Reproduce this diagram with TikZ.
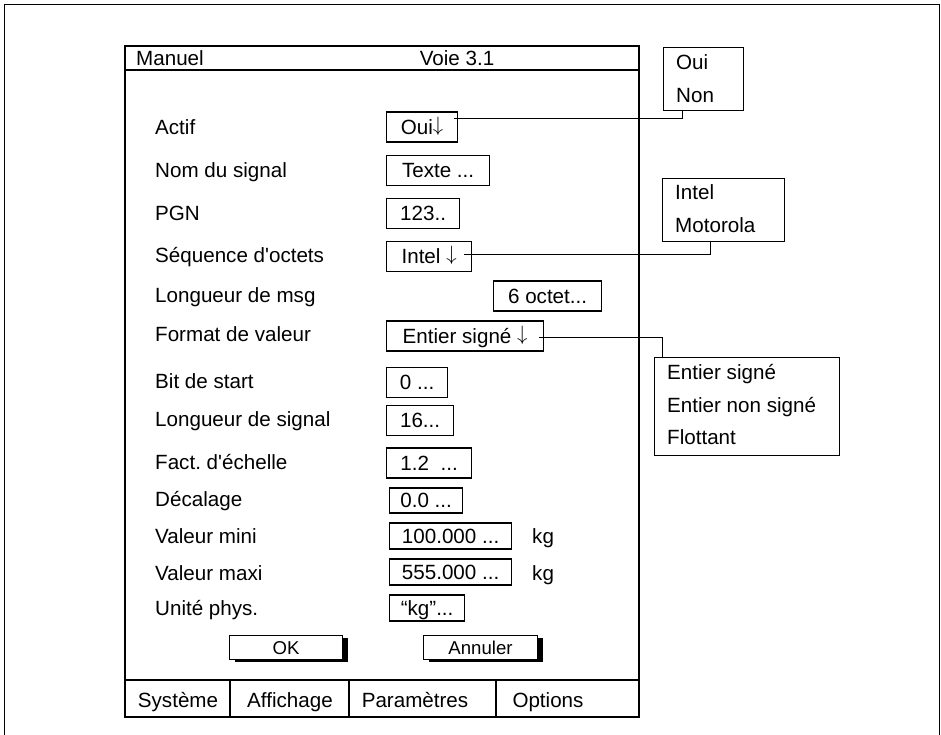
\documentclass[tikz,border=0pt]{standalone}
\usepackage{fontspec}
\setmainfont{Liberation Sans}
\usetikzlibrary{shadows}
\frenchspacing
\newcommand{\dnarrow}{\raisebox{3pt}{$\downarrow$}}

\begin{document}
\begin{tikzpicture}[x=1pt,y=-1pt,
    every node/.style={inner sep=0pt, font=\fontsize{20.6}{24}\selectfont},
    lbl/.style={anchor=west, text height=14.8pt, text depth=0pt},
    field/.style={draw, line width=1.2pt, anchor=west, minimum height=30pt,
      text height=14.8pt, text depth=0pt},
    popup/.style={draw, line width=1.2pt, anchor=north west},
    btn/.style={draw, fill=white, line width=1pt, anchor=north west,
      minimum width=113pt, minimum height=24pt, text height=13.4pt, text depth=0pt,
      font=\fontsize{18.6}{22}\selectfont,
      drop shadow={shadow xshift=5pt, shadow yshift=-2.5pt, fill=black, opacity=1}},
    wire/.style={line width=1pt}]
  \useasboundingbox (0,0) rectangle (941,735);
  \draw [line width=1.8pt] (4.5,745) -- (4.5,4.5) -- (939.5,4.5) -- (939.5,745);

  % fenetre
  \node [draw, line width=1.6pt, anchor=north west, minimum width=514pt, minimum height=671pt] (win) at (124,45) {};
  \draw [line width=1.6pt] (124,70) -- (638,70);
  \node [lbl] (mode) at (136,58) {Manuel};
  \node [lbl, anchor=center] (voie) at (457,58) {Voie 3.1};

  \node [lbl] (actif) at (155,127) {Actif};
  \node [field, minimum width=71pt] (actifbox) at (386,127) {Oui\dnarrow};
  \node [lbl] (nom) at (155,170) {Nom du signal};
  \node [field, minimum width=103pt] (nombox) at (386,170.5) {Texte ...};
  \node [lbl] (pgn) at (155,213) {PGN};
  \node [field, minimum width=73pt] (pgnbox) at (386,213.5) {123..};
  \node [lbl] (seq) at (155,255) {Séquence d\textquotesingle octets};
  \node [field, minimum width=85pt] (seqbox) at (386,256.5) {Intel \dnarrow};
  \node [lbl] (lmsg) at (155,295) {Longueur de msg};
  \node [field, minimum width=108pt] (lmsgbox) at (493,296) {6 octet...};
  \node [lbl] (fmt) at (155,334) {Format de valeur};
  \node [field, minimum width=157pt] (fmtbox) at (386,336) {Entier signé \dnarrow};
  \node [lbl] (bit) at (155,381) {Bit de start};
  \node [field, minimum width=61pt] (bitbox) at (386,382.5) {0 ...};
  \node [lbl] (lsig) at (155,419) {Longueur de signal};
  \node [field, minimum width=67pt] (lsigbox) at (386,420.5) {16...};
  \node [lbl] (fact) at (155,462) {Fact. d\textquotesingle échelle};
  \node [field, minimum width=85pt] (factbox) at (386,463) {1.2~ ...};
  \node [lbl] (dec) at (155,499) {Décalage};
  \node [field, minimum width=73pt, minimum height=25pt] (decbox) at (389,500.5) {0.0 ...};
  \node [lbl] (vmin) at (155,536) {Valeur mini};
  \node [field, minimum width=122pt, minimum height=26pt] (vminbox) at (389,536) {100.000 ...};
  \node [lbl] (kgmin) at (532,536) {kg};
  \node [lbl] (vmax) at (155,573) {Valeur maxi};
  \node [field, minimum width=122pt, minimum height=26pt] (vmaxbox) at (389,572) {555.000 ...};
  \node [lbl] (kgmax) at (532,573) {kg};
  \node [lbl] (unit) at (155,608) {Unité phys.};
  \node [field, minimum width=75pt, minimum height=26pt] (unitbox) at (389,608) {“kg”...};

  \node [btn] (ok) at (229,635) {OK};
  \node [btn, minimum width=114pt] (annul) at (423,635) {Annuler};

  % barre de menu
  \draw [line width=1.6pt] (124,680) -- (638,680);
  \draw [line width=1.2pt] (230,680) -- (230,716);
  \draw [line width=1.2pt] (349,680) -- (349,716);
  \draw [line width=1.2pt] (496,680) -- (496,716);
  \node [lbl, anchor=center] (sys) at (178,700) {Système};
  \node [lbl, anchor=center] (aff) at (290,700) {Affichage};
  \node [lbl, anchor=center] (par) at (415,700) {Paramètres};
  \node [lbl, anchor=center] (opt) at (548,700) {Options};

  % listes deroulantes
  \node [popup, minimum width=80pt, minimum height=63pt] (ouipop) at (663,47) {};
  \node [lbl] (popoui) at (676,62) {Oui};
  \node [lbl] (popnon) at (676,95) {Non};
  \node [popup, minimum width=122pt, minimum height=63pt] (intelpop) at (662,178) {};
  \node [lbl] (popintel) at (675,192) {Intel};
  \node [lbl] (popmoto) at (675,225) {Motorola};
  \node [popup, minimum width=185pt, minimum height=98pt] (fmtpop) at (654,357) {};
  \node [lbl] (popes) at (667,372) {Entier signé};
  \node [lbl] (popens) at (667,405) {Entier non signé};
  \node [lbl] (popflt) at (667,437) {Flottant};

  \draw [wire] ([shift={(-4,-8)}]actifbox.east) -| ([xshift=-21pt]ouipop.south);
  \draw [wire] ([shift={(-8,-2)}]seqbox.east) -| ([xshift=-13pt]intelpop.south);
  \draw [wire] ([shift={(-5,1)}]fmtbox.east) -| ([xshift=-84.5pt]fmtpop.north);
\end{tikzpicture}
\end{document}
